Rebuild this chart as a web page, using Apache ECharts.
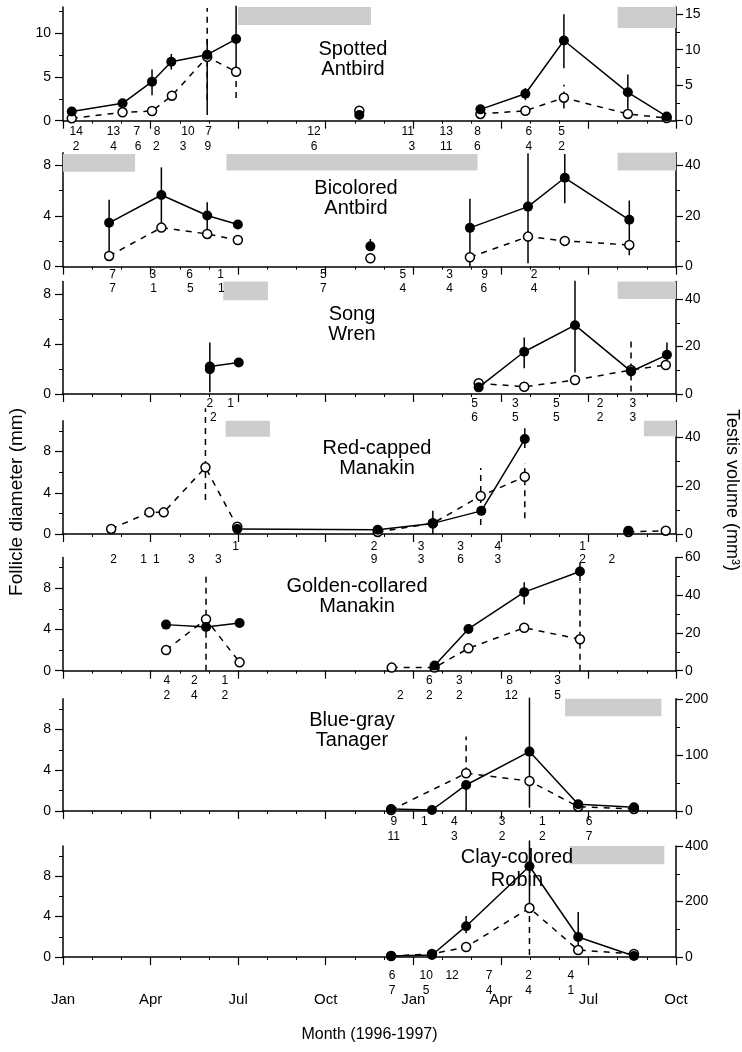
<!DOCTYPE html>
<html><head><meta charset="utf-8">
<script src="https://cdn.jsdelivr.net/npm/echarts@6/dist/echarts.min.js"></script>
<style>html,body{margin:0;padding:0;background:#fff}#c{width:742px;height:1052px}</style>
</head><body><div id="c"></div>
<script>
const monthLabels = ['Jan','Apr','Jul','Oct','Jan','Apr','Jul','Oct'];
// x values are months since 1 Jan 1996
// ---- Spotted Antbird
const spotTestis = [[[0.3,1.3],[2.04,2.45],[3.05,5.5],[3.71,8.3],[4.94,9.3],[5.93,11.5]],[[10.15,0.8]],[[14.3,1.6],[15.84,3.8],[17.16,11.3],[19.35,4.0],[20.68,0.6]]];
const spotTestisErr = [[3.05,3.6,7.2],[3.71,7.2,9.4],[4.94,0.8,11.5],[5.93,7.3,16.2],[15.84,2.9,4.6],[17.16,7.4,15.0],[19.35,1.7,6.5]];
const spotFoll = [[[0.3,0.27],[2.04,0.96],[3.05,1.11],[3.73,2.86],[4.94,7.3],[5.93,5.6]],[[10.15,1.14]],[[14.3,0.77],[15.84,1.14],[17.16,2.63],[19.35,0.77],[20.68,0.3]]];
const spotFollErr = [[4.94,2.4,12.9],[5.93,2.6,5.6],[17.16,1.4,4.1]];
const spotN1 = [[0.45,14],[1.73,13],[2.53,7],[3.22,8],[4.28,10],[4.99,7],[8.6,12],[11.81,11],[13.13,13],[14.2,8],[15.96,6],[17.08,5]];
const spotN2 = [[0.45,2],[1.73,4],[2.57,6],[3.2,2],[4.11,3],[4.96,9],[8.6,6],[11.95,3],[13.13,11],[14.19,6],[15.96,4],[17.08,2]];
const spotBoxes = [[6,10.95,10.55,13],[19,10.6,21,13]];
// ---- Bicolored Antbird
const bicTestis = [[[1.58,17.3],[3.37,28.3],[4.94,20.2],[5.99,16.6]],[[10.53,8.0]],[[13.94,15.3],[15.93,23.7],[17.19,35.1],[19.4,18.5]]];
const bicTestisErr = [[1.58,4.3,26.4],[3.37,15.5,39.2],[4.94,14.9,25.4],[10.53,8.0,10.9],[13.94,0,26.8],[15.93,1.3,44.8],[17.19,25.0,44.5],[19.4,7.9,26.1]];
const bicFoll = [[[1.58,0.84],[3.37,3.08],[4.94,2.58],[5.99,2.1]],[[10.53,0.66]],[[13.94,0.74],[15.93,2.37],[17.19,2.03],[19.4,1.71]]];
const bicFollErr = [[19.4,0.9,1.7]];
const bicN1 = [[1.7,7],[3.08,3],[4.34,6],[5.4,1],[8.92,5],[11.64,5],[13.24,3],[14.44,9],[16.14,2]];
const bicN2 = [[1.7,7],[3.1,1],[4.36,5],[5.42,1],[8.92,7],[11.64,4],[13.24,4],[14.42,6],[16.14,4]];
const bicBoxes = [[0,7.5,2.47,8.9],[5.6,7.6,14.2,8.9],[19,7.6,21,9]];
// ---- Song Wren
const wrenTestis = [[[5.03,10.4],[5.03,11.6],[6.02,13.3]],[[14.24,2.8],[15.8,17.8],[17.54,29.0],[19.46,9.5],[20.69,16.5]]];
const wrenTestisErr = [[5.03,0.7,21.7],[15.8,10.8,23.8],[17.54,9.1,47.7],[20.69,12.6,21.7]];
const wrenFoll = [[[14.24,0.86],[15.8,0.58],[17.54,1.12],[19.46,1.92],[20.65,2.32]]];
const wrenFollErr = [[19.46,0.2,4.5]];
const wrenN1 = [[5.03,2],[5.74,1],[14.1,5],[15.5,3],[16.9,5],[18.4,2],[19.52,3]];
const wrenN2 = [[5.15,2],[14.1,6],[15.5,5],[16.9,5],[18.4,2],[19.52,3]];
const wrenBoxes = [[5.49,7.5,7.02,9],[19,7.6,21,9]];
// ---- Red-capped Manakin
const rcmTestis = [[[5.97,2.1],[10.78,1.8],[12.67,4.4],[14.33,9.6],[15.82,39.4]],[[19.37,1.4]]];
const rcmTestisErr = [[12.67,0,9.6],[15.82,35.7,43.9]];
const rcmFoll = [[[1.65,0.49],[2.96,2.1],[3.45,2.1],[4.88,6.47],[5.97,0.71]],[[10.78,0.2],[12.67,1.04],[14.31,3.69],[15.82,5.56]],[[19.37,0.2],[20.65,0.32]]];
const rcmFollErr = [[4.88,3.3,12.2],[14.31,0.87,6.4],[15.82,1.52,6.9]];
const rcmN1 = [[5.91,1],[10.66,2],[12.27,3],[13.62,3],[14.9,4],[17.8,1]];
const rcmN2 = [[1.73,2],[2.76,1],[3.2,1],[4.4,3],[5.32,3],[10.66,9],[12.27,3],[13.62,6],[14.9,3],[17.8,2],[18.8,2]];
const rcmBoxes = [[5.57,9.45,7.09,11],[19.9,9.5,21,11]];
// ---- Golden-collared Manakin
const gcmTestis = [[[3.53,24.4],[4.9,23.1],[6.05,25.3]],[[12.73,2.7],[13.89,22.1],[15.8,41.6],[17.71,52.5]]];
const gcmTestisErr = [[15.8,35,46.9],[17.71,47.5,57.3]];
const gcmFoll = [[[3.53,2.0],[4.9,5.0],[6.05,0.81]],[[11.26,0.3],[12.73,0.3],[13.89,2.17],[15.8,4.17],[17.71,3.05]]];
const gcmFollErr = [[4.9,0,9.46],[17.71,0,8.6]];
const gcmN1 = [[3.56,4],[4.5,2],[5.54,1],[12.55,6],[13.58,3],[15.3,8],[16.94,3]];
const gcmN2 = [[3.56,2],[4.5,4],[5.54,2],[11.56,2],[12.55,2],[13.58,2],[15.36,12],[16.94,5]];
const gcmBoxes = [];
// ---- Blue-gray Tanager
const bgtTestis = [[[11.24,3.6],[12.64,1.8],[13.81,46.4],[15.98,105.9],[17.65,12.0],[19.56,6.5]]];
const bgtTestisErr = [[13.81,0,46.4],[15.98,5.9,202]];
const bgtFoll = [[[11.24,0.1],[13.81,3.7],[15.98,2.94],[17.65,0.42],[19.56,0.2]]];
const bgtFollErr = [[13.81,3.7,7.3]];
const bgtN1 = [[11.33,9],[12.38,1],[13.41,4],[15.04,3],[16.42,1],[18.02,6]];
const bgtN2 = [[11.33,11],[13.41,3],[15.04,2],[16.42,2],[18.02,7]];
const bgtBoxes = [[17.2,9.3,20.5,11]];
// ---- Clay-colored Robin
const ccrTestis = [[[11.24,3.6],[12.64,7.2],[13.81,111],[15.98,327],[17.65,72],[19.56,3.6]]];
const ccrTestisErr = [[13.81,86,148],[15.98,187,420],[17.65,25,162]];
const ccrFoll = [[[11.24,0.1],[12.64,0.3],[13.81,0.99],[15.98,4.85],[17.65,0.69],[19.56,0.3]]];
const ccrFollErr = [[15.98,0.2,5.2]];
const ccrN1 = [[11.27,6],[12.44,10],[13.33,12],[14.6,7],[15.95,2],[17.4,4]];
const ccrN2 = [[11.27,7],[12.44,5],[14.6,4],[15.95,4],[17.4,1]];
const ccrBoxes = [[17.35,9.2,20.6,11]];

const FONT = '"Liberation Sans", Arial, Helvetica, sans-serif';
const panels = [
 {title:'Spotted\nAntbird', tx:353, ty:59.5, lh:20, top:7.1, zero:120.7, lmax:13, lint:5, rmax:16, rint:5, testis:spotTestis, testisErr:spotTestisErr, foll:spotFoll, follErr:spotFollErr, n1:spotN1, n2:spotN2, boxes:spotBoxes, r1:131.7, r2:146.7},
 {title:'Bicolored\nAntbird', tx:356, ty:198, lh:20, top:152.7, zero:266.6, lmax:9, lint:4, rmax:45, rint:20, testis:bicTestis, testisErr:bicTestisErr, foll:bicFoll, follErr:bicFollErr, n1:bicN1, n2:bicN2, boxes:bicBoxes, r1:275, r2:288.5},
 {title:'Song\nWren', tx:352, ty:324.5, lh:20, top:281.5, zero:394, lmax:9, lint:4, rmax:47.4, rint:20, testis:wrenTestis, testisErr:wrenTestisErr, foll:wrenFoll, follErr:wrenFollErr, n1:wrenN1, n2:wrenN2, boxes:wrenBoxes, r1:404, r2:418},
 {title:'Red-capped\nManakin', tx:377, ty:458.5, lh:20, top:420.7, zero:534, lmax:11, lint:4, rmax:47, rint:20, testis:rcmTestis, testisErr:rcmTestisErr, foll:rcmFoll, follErr:rcmFollErr, n1:rcmN1, n2:rcmN2, boxes:rcmBoxes, r1:547, r2:560},
 {title:'Golden-collared\nManakin', tx:357, ty:596, lh:20, top:557.4, zero:670.7, lmax:11, lint:4, rmax:60, rint:20, testis:gcmTestis, testisErr:gcmTestisErr, foll:gcmFoll, follErr:gcmFollErr, n1:gcmN1, n2:gcmN2, boxes:gcmBoxes, r1:681, r2:696},
 {title:'Blue-gray\nTanager', tx:352, ty:730, lh:20, top:698.8, zero:811, lmax:11, lint:4, rmax:200, rint:100, testis:bgtTestis, testisErr:bgtTestisErr, foll:bgtFoll, follErr:bgtFollErr, n1:bgtN1, n2:bgtN2, boxes:bgtBoxes, r1:822, r2:837},
 {title:'Clay-colored\nRobin', tx:517, ty:868.5, lh:23, top:846, zero:957, lmax:11, lint:4, rmax:400, rint:200, testis:ccrTestis, testisErr:ccrTestisErr, foll:ccrFoll, follErr:ccrFollErr, n1:ccrN1, n2:ccrN2, boxes:ccrBoxes, r1:976, r2:991}
];

function flat(segs){ const out=[]; segs.forEach((s,i)=>{ if(i>0) out.push([null,null]); s.forEach(p=>out.push(p)); }); return out; }
function tickVals(max, step){ const a=[]; for(let v=0; v<=max+1e-9; v+=step) a.push(v); return a; }
function errRender(dashed){
  return function(params, api){
    const x=api.value(0), lo=api.value(1), hi=api.value(2);
    const p1=api.coord([x,lo]), p2=api.coord([x,hi]);
    return {type:'line', shape:{x1:p1[0],y1:p1[1],x2:p2[0],y2:p2[1]},
      style:{stroke:'#000', lineWidth:1.5, lineDash: dashed?[6,5]:null}};
  };
}
function textRender(params, api){
  const p=api.coord([api.value(0), api.value(1)]);
  return {type:'text', x:p[0], y:p[1], style:{text:String(api.value(2)), fill:'#000', font:'12px '+FONT, align:'center', verticalAlign:'middle'}};
}

const grid=[], xAxis=[], yAxis=[], series=[], graphic=[];
const N = panels.length;
panels.forEach((p,i)=>{
  const last = i===N-1;
  grid.push({left:63, right:66, top:p.top, height:p.zero-p.top});
  xAxis.push({type:'value', gridIndex:i, min:0, max:21, interval:3,
    axisLine:{onZero:false, lineStyle:{color:'#000', width:1.5}},
    axisTick:{show:true, length:8, lineStyle:{color:'#000', width:1.2}},
    minorTick:{show:true, splitNumber:3, length:3, lineStyle:{color:'#000', width:1}},
    splitLine:{show:false},
    axisLabel:{show:last, margin:35, fontSize:15, color:'#000', fontFamily:FONT, formatter:v=>monthLabels[Math.round(v/3)]},
    name:last?'Month (1996-1997)':'', nameLocation:'middle', nameGap:70,
    nameTextStyle:{fontSize:16, color:'#000', fontFamily:FONT}
  });
  const lt=tickVals(p.lmax,p.lint), rt=tickVals(p.rmax,p.rint);
  yAxis.push({type:'value', gridIndex:i, position:'left', min:0, max:p.lmax, interval:p.lint,
    axisLine:{show:true, onZero:false, lineStyle:{color:'#000', width:1.5}},
    axisTick:{show:true, length:8, customValues:lt, lineStyle:{color:'#000', width:1.2}},
    minorTick:{show:true, splitNumber:2, length:4, lineStyle:{color:'#000', width:1}},
    axisLabel:{customValues:lt, fontSize:14, margin:12, color:'#000', fontFamily:FONT},
    splitLine:{show:false}});
  yAxis.push({type:'value', gridIndex:i, position:'right', min:0, max:p.rmax, interval:p.rint,
    axisLine:{show:true, onZero:false, lineStyle:{color:'#000', width:1.5}},
    axisTick:{show:true, length:7, customValues:rt, lineStyle:{color:'#000', width:1.2}},
    minorTick:{show:true, splitNumber:2, length:4, lineStyle:{color:'#000', width:1}},
    axisLabel:{customValues:rt, fontSize:14, margin:9, color:'#000', fontFamily:FONT},
    splitLine:{show:false}});
  series.push({type:'custom', xAxisIndex:i, yAxisIndex:2*i, data:p.follErr, renderItem:errRender(true), clip:false, z:2, silent:true, encode:{x:0,y:[1,2]}});
  series.push({type:'custom', xAxisIndex:i, yAxisIndex:2*i+1, data:p.testisErr, renderItem:errRender(false), clip:false, z:2, silent:true, encode:{x:0,y:[1,2]}});
  series.push({type:'line', xAxisIndex:i, yAxisIndex:2*i, data:flat(p.foll), connectNulls:false,
    symbol:'circle', symbolSize:9, showAllSymbol:true,
    itemStyle:{color:'#fff', borderColor:'#000', borderWidth:1.5},
    lineStyle:{color:'#000', width:1.5, type:[6,6]}, z:3, silent:true,
    markArea:{silent:true, itemStyle:{color:'#cdcdcd'}, data:p.boxes.map(b=>[{coord:[b[0],b[1]]},{coord:[b[2],b[3]]}])}
  });
  series.push({type:'line', xAxisIndex:i, yAxisIndex:2*i+1, data:flat(p.testis), connectNulls:false,
    symbol:'circle', symbolSize:10, showAllSymbol:true,
    itemStyle:{color:'#000', borderColor:'#000', borderWidth:0},
    lineStyle:{color:'#000', width:1.5}, z:4, silent:true});
  graphic.push({type:'text', x:p.tx, y:p.ty, z:10, style:{text:p.title, fill:'#000', font:'20px '+FONT, align:'center', verticalAlign:'middle', lineHeight:p.lh}});
});
panels.forEach((p,i)=>{
  grid.push({left:63, right:66, top:p.r1, height:p.r2-p.r1});
  xAxis.push({type:'value', gridIndex:N+i, min:0, max:21, show:false});
  yAxis.push({type:'value', gridIndex:N+i, min:0, max:1, show:false});
  const d = p.n1.map(a=>[a[0],1,a[1]]).concat(p.n2.map(a=>[a[0],0,a[1]]));
  series.push({type:'custom', xAxisIndex:N+i, yAxisIndex:2*N+i, data:d, renderItem:textRender, clip:false, silent:true, encode:{x:0,y:1}});
});
graphic.push({type:'text', x:17, y:502, rotation:Math.PI/2, style:{text:'Follicle diameter (mm)', fill:'#000', font:'19px '+FONT, align:'center', verticalAlign:'middle'}});
graphic.push({type:'text', x:732, y:490, rotation:-Math.PI/2, style:{text:'Testis volume (mm\u00b3)', fill:'#000', font:'18px '+FONT, align:'center', verticalAlign:'middle'}});

const chart = echarts.init(document.getElementById('c'), null, {renderer:'canvas'});
chart.setOption({animation:false, backgroundColor:'#fff', grid, xAxis, yAxis, series, graphic});
</script></body></html>
